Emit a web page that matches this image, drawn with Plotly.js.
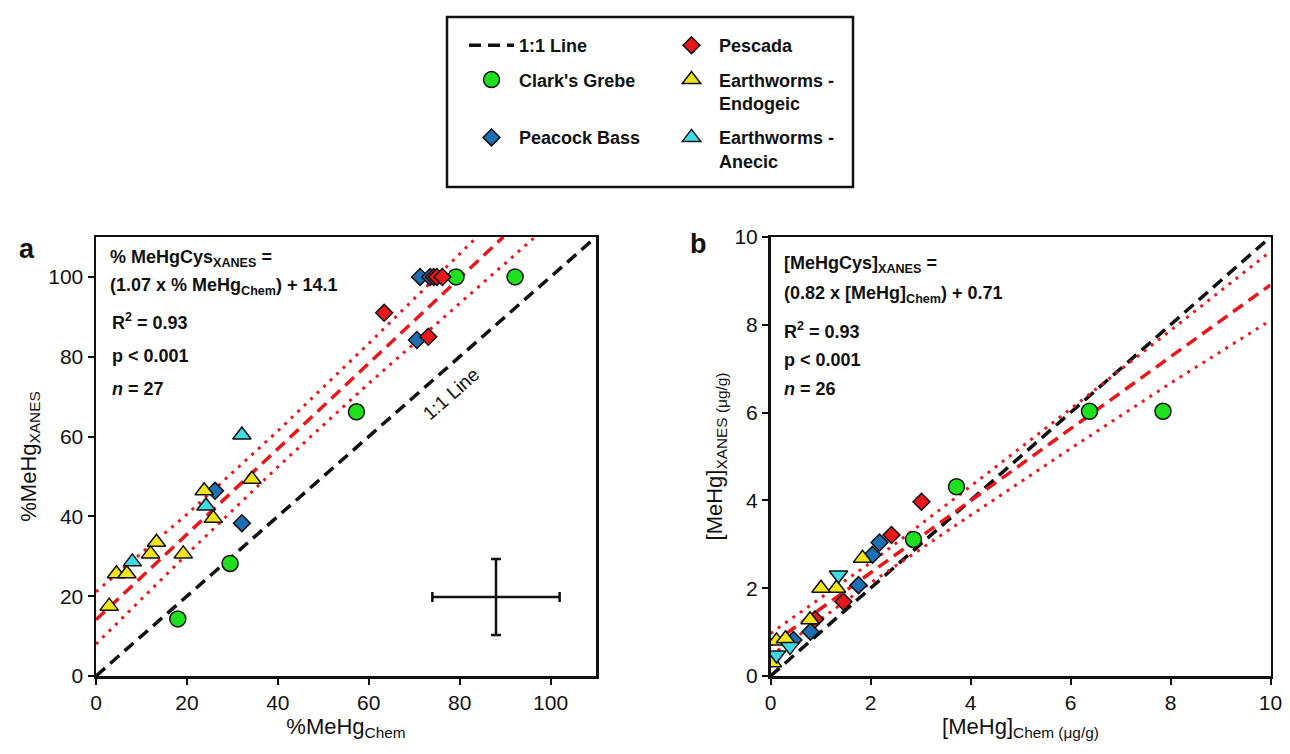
<!DOCTYPE html>
<html><head><meta charset="utf-8">
<script src="https://cdn.plot.ly/plotly-3.0.1.min.js"></script>
<style>html,body{margin:0;padding:0;background:#fff}#chart{width:1290px;height:754px}</style>
</head><body><div id="chart"></div>
<script>
// ---------- Panel a : % MeHg ----------
const grebeA_x   = [18.0, 29.5, 57.3, 79.2, 92.2];
const grebeA_y   = [14.3, 28.2, 66.2, 100, 100];
const bassA_x    = [71.3, 73.5, 70.6, 26.2, 32.1];
const bassA_y    = [100, 100, 84.2, 46.4, 38.3];
const pescadaA_x = [74.3, 75.0, 76.2, 63.4, 73.1];
const pescadaA_y = [100, 100, 100, 91.0, 85.0];
const endoA_x    = [34.3, 23.8, 25.8, 13.3, 12.0, 19.2, 4.5, 6.8, 2.9];
const endoA_y    = [49.3, 46.4, 39.5, 33.5, 30.6, 30.6, 25.6, 25.6, 17.5];
const anecA_x    = [32.1, 24.2, 8.0];
const anecA_y    = [60.4, 42.6, 28.6];
const oneA_x = [0, 110], oneA_y = [0, 110];
const fitA_x = [0, 89.6], fitA_y = [14.1, 110];
const upA_x  = [0, 20, 40, 60, 83.8], upA_y  = [21.1, 40.5, 61.4, 83.3, 110];
const loA_x  = [0, 20, 40, 60, 96.6], loA_y  = [8.0, 30.5, 52.4, 73.3, 110];
const errA_x = [88], errA_y = [19.8], errA_dx = [14], errA_dy = [9.5];
const ticksA = [0, 20, 40, 60, 80, 100];

// ---------- Panel b : [MeHg] ug/g ----------
const grebeB_x   = [3.72, 2.86, 6.38, 7.85];
const grebeB_y   = [4.31, 3.11, 6.03, 6.03];
const bassB_x    = [2.18, 2.04, 1.76, 0.80, 0.46];
const bassB_y    = [3.04, 2.76, 2.07, 1.01, 0.82];
const pescadaB_x = [3.02, 2.42, 1.46, 0.89];
const pescadaB_y = [3.97, 3.21, 1.69, 1.29];
const endoB_x    = [1.84, 1.32, 1.01, 0.79, 0.12, 0.30, 0.04];
const endoB_y    = [2.68, 2.00, 2.00, 1.28, 0.80, 0.85, 0.30];
const anecB_x    = [1.36, 0.39, 0.12];
const anecB_y    = [2.30, 0.67, 0.48];
const oneB_x = [0, 10], oneB_y = [0, 10];
const fitB_x = [0, 10], fitB_y = [0.71, 8.91];
const upB_x  = [0, 2, 4, 6, 8, 10], upB_y = [0.97, 2.58, 4.32, 6.08, 7.87, 9.67];
const loB_x  = [0, 2, 4, 6, 8, 10], loB_y = [0.46, 2.12, 3.66, 5.18, 6.67, 8.10];
const ticksB = [0, 2, 4, 6, 8, 10];

const W = 1290, H = 754;
const px = v => v / W, py = v => 1 - v / H;

const cGreen = '#1fe01f', cBlue = '#1d6fb3', cRed = '#e8171c', cYellow = '#f2e51a', cCyan = '#3ddbe6';
const edge = {color: '#111', width: 1.5};
const dashLong = '12px,7px';
const dotPat = '3px,6px';

function markers(x, y, name, color, symbol, size, xa, ya, legend, show, group) {
  return {type: 'scatter', mode: 'markers', x: x, y: y, name: name, xaxis: xa, yaxis: ya,
    legend: legend, showlegend: show, legendgroup: group,
    marker: {color: color, symbol: symbol, size: size, line: edge}, hoverinfo: 'x+y'};
}
function line(x, y, color, dash, width, xa, ya, name, show, group, legend) {
  return {type: 'scatter', mode: 'lines', x: x, y: y, xaxis: xa, yaxis: ya, name: name || '',
    showlegend: !!show, legendgroup: group, legend: legend || 'legend',
    line: {color: color, dash: dash, width: width}, hoverinfo: 'skip'};
}

const data = [
  line(oneA_x, oneA_y, '#111', dashLong, 3.5, 'x', 'y', '1:1 Line', true, 'g1', 'legend'),
  line(upA_x, upA_y, cRed, dotPat, 3, 'x', 'y'),
  line(loA_x, loA_y, cRed, dotPat, 3, 'x', 'y'),
  line(fitA_x, fitA_y, cRed, dashLong, 3.5, 'x', 'y'),
  line(oneB_x, oneB_y, '#111', dashLong, 3.5, 'x2', 'y2', '1:1 Line', false, 'g1'),
  line(upB_x, upB_y, cRed, dotPat, 3, 'x2', 'y2'),
  line(loB_x, loB_y, cRed, dotPat, 3, 'x2', 'y2'),
  line(fitB_x, fitB_y, cRed, dashLong, 3.5, 'x2', 'y2'),
  markers(grebeA_x, grebeA_y, "Clark's Grebe<br>&nbsp;", cGreen, 'circle', 16, 'x', 'y', 'legend', true, 'g2'),
  markers(bassA_x, bassA_y, 'Peacock Bass<br>&nbsp;', cBlue, 'diamond', 13, 'x', 'y', 'legend', true, 'g3'),
  markers(pescadaA_x, pescadaA_y, 'Pescada', cRed, 'diamond', 13, 'x', 'y', 'legend2', true, 'g4'),
  markers(endoA_x, endoA_y, 'Earthworms -<br>Endogeic', cYellow, 'triangle-up', 16, 'x', 'y', 'legend2', true, 'g5'),
  markers(anecA_x, anecA_y, 'Earthworms -<br>Anecic', cCyan, 'triangle-up', 16, 'x', 'y', 'legend2', true, 'g6'),
  markers(grebeB_x, grebeB_y, "Clark's Grebe", cGreen, 'circle', 16, 'x2', 'y2', 'legend', false, 'g2'),
  markers(bassB_x, bassB_y, 'Peacock Bass', cBlue, 'diamond', 13, 'x2', 'y2', 'legend', false, 'g3'),
  markers(pescadaB_x, pescadaB_y, 'Pescada', cRed, 'diamond', 13, 'x2', 'y2', 'legend2', false, 'g4'),
  markers(endoB_x, endoB_y, 'Earthworms - Endogeic', cYellow, 'triangle-up', 16, 'x2', 'y2', 'legend2', false, 'g5'),
  markers(anecB_x, anecB_y, 'Earthworms - Anecic', cCyan, 'triangle-down', 16, 'x2', 'y2', 'legend2', false, 'g6'),
  {type: 'scatter', mode: 'markers', x: errA_x, y: errA_y, xaxis: 'x', yaxis: 'y', showlegend: false,
   marker: {size: 2, opacity: 0}, hoverinfo: 'skip',
   error_x: {type: 'data', array: errA_dx, color: '#111', thickness: 2.5, width: 5},
   error_y: {type: 'data', array: errA_dy, color: '#111', thickness: 2.5, width: 5}}
];

const tickFont = {family: '"Liberation Sans", Arial, sans-serif', size: 21, color: '#111'};
const titleFont = {family: '"Liberation Sans", Arial, sans-serif', size: 22, color: '#111'};
function axis(domain, range, ticks, title, standoff, anchor) {
  return {domain: domain, range: range, tickvals: ticks, ticks: 'outside', ticklen: 6, tickwidth: 2,
    tickcolor: '#111', showline: true, linewidth: 2.5, linecolor: '#111', mirror: true, anchor: anchor,
    showgrid: false, zeroline: false, tickfont: tickFont, fixedrange: true,
    title: {text: title, font: titleFont, standoff: standoff}};
}

const bold = {family: '"Liberation Sans", Arial, sans-serif', size: 18, color: '#111', weight: 'bold'};
function note(x, y, text, extra) {
  return Object.assign({xref: 'paper', yref: 'paper', x: px(x), y: py(y), xanchor: 'left', yanchor: 'middle',
    text: text, showarrow: false, font: bold}, extra || {});
}

const layout = {
  width: W, height: H, autosize: false,
  margin: {l: 0, r: 0, t: 0, b: 0},
  paper_bgcolor: '#fff', plot_bgcolor: '#fff',
  font: {family: '"Liberation Sans", Arial, sans-serif', color: '#111'},
  xaxis: axis([px(96), px(596)], [0, 110], ticksA, '%MeHg<sub>Chem</sub>', 4, 'y'),
  yaxis: axis([1 - 676 / H, 1 - 237 / H], [0, 110], ticksA, '%MeHg<sub>XANES</sub>', 6, 'x'),
  xaxis2: axis([px(770.5), px(1270.5)], [0, 10], ticksB, '[MeHg]<sub>Chem (μg/g)</sub>', 4, 'y2'),
  yaxis2: axis([1 - 676 / H, 1 - 237 / H], [0, 10], ticksB, '[MeHg]<sub>XANES (μg/g)</sub>', 6, 'x2'),
  showlegend: true,
  legend: {x: px(464), xanchor: 'left', y: py(27), yanchor: 'top', bgcolor: 'rgba(0,0,0,0)', borderwidth: 0,
    font: bold, itemwidth: 45, valign: 'top', tracegroupgap: 8, itemclick: false, itemdoubleclick: false},
  legend2: {x: px(664), xanchor: 'left', y: py(27), yanchor: 'top', bgcolor: 'rgba(0,0,0,0)', borderwidth: 0,
    font: bold, itemwidth: 45, valign: 'top', tracegroupgap: 8, itemclick: false, itemdoubleclick: false},
  shapes: [
    {type: 'rect', xref: 'paper', yref: 'paper', x0: px(447), x1: px(853), y0: py(187), y1: py(17),
     line: {color: '#111', width: 2.5}, fillcolor: 'rgba(0,0,0,0)'}
  ],
  annotations: [
    note(17, 249, 'a', {font: Object.assign({}, bold, {size: 27})}),
    note(688, 244, 'b', {font: Object.assign({}, bold, {size: 27})}),
    note(108, 258, '% MeHgCys<sub>XANES</sub> ='),
    note(108, 287, '(1.07 x % MeHg<sub>Chem</sub>) + 14.1'),
    note(110, 321, 'R<sup>2</sup> = 0.93'),
    note(110, 356, 'p < 0.001'),
    note(110, 389, '<i>n</i> = 27'),
    note(782, 264, '[MeHgCys]<sub>XANES</sub> ='),
    note(782, 295, '(0.82 x [MeHg]<sub>Chem</sub>) + 0.71'),
    note(782, 330, 'R<sup>2</sup> = 0.93'),
    note(782, 360, 'p < 0.001'),
    note(782, 389, '<i>n</i> = 26'),
    {xref: 'x', yref: 'y', x: 78.2, y: 70.8, text: '1:1 Line', textangle: -41.3, showarrow: false,
     font: {family: '"Liberation Sans", Arial, sans-serif', size: 19, color: '#111'}}
  ]
};

Plotly.newPlot('chart', data, layout, {displayModeBar: false, staticPlot: true});
</script>
</body></html>
